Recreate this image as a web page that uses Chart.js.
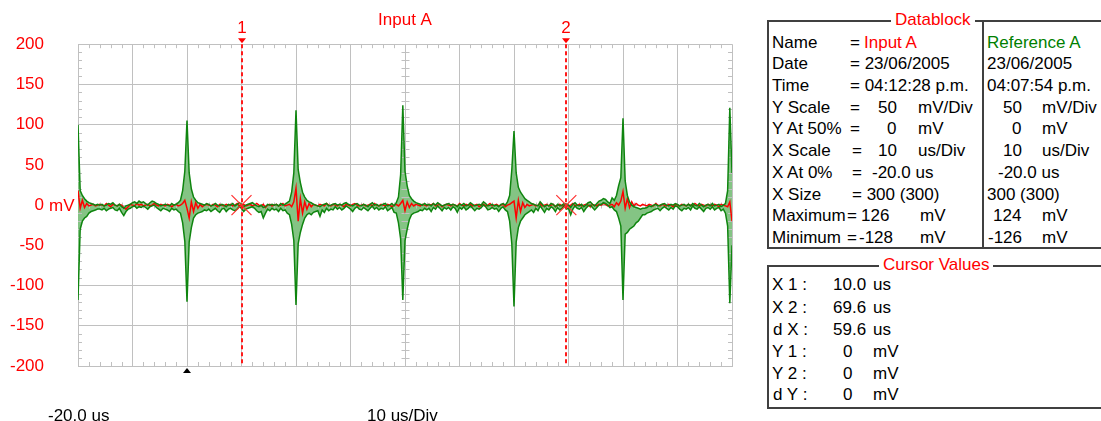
<!DOCTYPE html>
<html>
<head>
<meta charset="utf-8">
<script src="https://cdn.jsdelivr.net/npm/chart.js@4/dist/chart.umd.min.js"></script>
<style>
  html, body { margin: 0; padding: 0; background: #fff; width: 1101px; height: 421px; overflow: hidden; }
  body { position: relative; font-family: "Liberation Sans", Arial, sans-serif; font-size: 17px; color: #000; }
  #scope { position: absolute; left: 0; top: 0; }
  .t { position: absolute; white-space: pre; line-height: 20px; }
  .red { color: #ff0000; }
  .grn { color: #008000; }
  .box { position: absolute; border: 2px solid #404040; box-sizing: border-box; }
  .cap { position: absolute; background: #fff; color: #ff0000; padding: 0 4px; line-height: 20px; white-space: pre; }
  .div { position: absolute; background: #404040; }
</style>
</head>
<body>
<canvas id="scope" width="745" height="421"></canvas>

<!-- horizontal axis captions -->
<div class="t" style="left:48px; top:406px;">-20.0 us</div>
<div class="t" style="left:367px; top:406px;">10 us/Div</div>

<!-- Datablock -->
<div class="box" style="left:767px; top:20px; width:345px; height:229px;"></div>
<div class="div" style="left:982px; top:20px; width:2px; height:229px;"></div>
<div class="cap" style="left:891px; top:10px;">Datablock</div>

<div class="t" style="left:772px; top:33px;">Name</div>
<div class="t" style="left:850px; top:33px;">=</div>
<div class="t red" style="left:864px; top:33px;">Input A</div>
<div class="t grn" style="left:987px; top:33px;">Reference A</div>

<div class="t" style="left:772px; top:54px;">Date</div>
<div class="t" style="left:850px; top:54px;">= 23/06/2005</div>
<div class="t" style="left:987px; top:54px;">23/06/2005</div>

<div class="t" style="left:772px; top:76px;">Time</div>
<div class="t" style="left:850px; top:76px;">= 04:12:28 p.m.</div>
<div class="t" style="left:987px; top:76px;">04:07:54 p.m.</div>

<div class="t" style="left:772px; top:98px;">Y Scale</div>
<div class="t" style="left:850px; top:98px;">=</div>
<div class="t" style="left:878px; top:98px;">50</div>
<div class="t" style="left:918px; top:98px;">mV/Div</div>
<div class="t" style="left:1003px; top:98px;">50</div>
<div class="t" style="left:1042px; top:98px;">mV/Div</div>

<div class="t" style="left:772px; top:119px;">Y At 50%</div>
<div class="t" style="left:850px; top:119px;">=</div>
<div class="t" style="left:887px; top:119px;">0</div>
<div class="t" style="left:918px; top:119px;">mV</div>
<div class="t" style="left:1012px; top:119px;">0</div>
<div class="t" style="left:1042px; top:119px;">mV</div>

<div class="t" style="left:772px; top:141px;">X Scale</div>
<div class="t" style="left:852px; top:141px;">=</div>
<div class="t" style="left:878px; top:141px;">10</div>
<div class="t" style="left:918px; top:141px;">us/Div</div>
<div class="t" style="left:1003px; top:141px;">10</div>
<div class="t" style="left:1042px; top:141px;">us/Div</div>

<div class="t" style="left:772px; top:163px;">X At 0%</div>
<div class="t" style="left:852px; top:163px;">=</div>
<div class="t" style="left:872px; top:163px;">-20.0 us</div>
<div class="t" style="left:998px; top:163px;">-20.0 us</div>

<div class="t" style="left:772px; top:185px;">X Size</div>
<div class="t" style="left:852px; top:185px;">= 300 (300)</div>
<div class="t" style="left:987px; top:185px;">300 (300)</div>

<div class="t" style="left:772px; top:206px;">Maximum</div>
<div class="t" style="left:847px; top:206px;">=</div>
<div class="t" style="left:861px; top:206px;">126</div>
<div class="t" style="left:920px; top:206px;">mV</div>
<div class="t" style="left:993px; top:206px;">124</div>
<div class="t" style="left:1042px; top:206px;">mV</div>

<div class="t" style="left:772px; top:228px;">Minimum</div>
<div class="t" style="left:847px; top:228px;">=</div>
<div class="t" style="left:859px; top:228px;">-128</div>
<div class="t" style="left:920px; top:228px;">mV</div>
<div class="t" style="left:988px; top:228px;">-126</div>
<div class="t" style="left:1042px; top:228px;">mV</div>

<!-- Cursor Values -->
<div class="box" style="left:767px; top:265px; width:345px; height:144px;"></div>
<div class="cap" style="left:879px; top:255px;">Cursor Values</div>

<div class="t" style="left:772px; top:275px;">X 1 :</div>
<div class="t" style="left:833px; top:275px;">10.0</div>
<div class="t" style="left:873px; top:275px;">us</div>

<div class="t" style="left:772px; top:298px;">X 2 :</div>
<div class="t" style="left:833px; top:298px;">69.6</div>
<div class="t" style="left:873px; top:298px;">us</div>

<div class="t" style="left:773px; top:320px;">d X :</div>
<div class="t" style="left:833px; top:320px;">59.6</div>
<div class="t" style="left:873px; top:320px;">us</div>

<div class="t" style="left:772px; top:342px;">Y 1 :</div>
<div class="t" style="left:843px; top:342px;">0</div>
<div class="t" style="left:873px; top:342px;">mV</div>

<div class="t" style="left:772px; top:364px;">Y 2 :</div>
<div class="t" style="left:843px; top:364px;">0</div>
<div class="t" style="left:873px; top:364px;">mV</div>

<div class="t" style="left:773px; top:385px;">d Y :</div>
<div class="t" style="left:843px; top:385px;">0</div>
<div class="t" style="left:873px; top:385px;">mV</div>

<script>
// Timebase: 10 us/Div, trace starts at -20.0 us, 300 sample intervals across 12 divisions
const timeStart = -20;
const timeEnd = 100;
const sampleStep = 0.4;
const sampleTimes = Array.from({ length: 301 }, (_, i) => +(timeStart + i * sampleStep).toFixed(1));

// Vertical scale: 50 mV/Div, 8 divisions
const voltTicks = [-200, -150, -100, -50, 0, 50, 100, 150, 200];

// Reference A, upper edge of each sample's min/max envelope (mV)
const referenceAMax = [
  100, 18, 12, 8, 5, 3, 2, 1, 0, 1,
  0, 1, -1, 0, 2, 1, 3, 0, -1, 1,
  -2, -4, -1, 0, 1, 3, 4, 2, 5, 3,
  4, 2, 0, 3, 5, 4, 2, 1, -1, 0,
  1, 0, -1, 2, 0, 1, 3, 6, 18, 42,
  105, 40, 20, 10, 6, 3, 2, 1, 0, 2,
  1, -1, 0, 2, 0, -1, 1, 0, -2, 1,
  0, 2, -1, 1, 3, 1, -2, 0, 1, 2,
  3, 1, -1, -2, 0, -3, -2, 1, 0, 1,
  0, 1, -1, 2, 0, 1, 3, 5, 16, 40,
  118, 44, 28, 16, 10, 6, 4, 3, 1, 0,
  -1, -2, 0, 1, 2, -1, 0, 1, 2, 0,
  1, 0, 2, 3, 1, 0, -1, 1, 2, 0,
  -1, 1, 0, -2, 1, 3, 0, 1, -1, 0,
  1, 2, -1, 0, 2, -1, 3, 10, 38, 124,
  42, 24, 12, 8, 5, 3, 2, 1, 0, 2,
  0, 1, -1, 2, 0, 3, 1, -1, 0, 1,
  2, 0, 1, 0, -2, 1, 0, 2, -1, 0,
  3, 1, -1, 0, 1, 0, 4, 2, -1, 0,
  1, -1, 0, -2, 1, 2, 0, 4, 12, 44,
  92, 40, 22, 16, 12, 8, 6, 4, 2, 1,
  0, -1, 4, 1, -2, 0, -1, 2, 1, -2,
  1, -1, 0, 2, 1, 0, -3, 1, 3, 0,
  -1, 1, -2, 0, 3, 4, 1, -1, 2, 5,
  6, 8, 7, 4, 2, 9, 6, 12, 24, 34,
  108, 30, 12, 4, 0, -2, -3, -4, -5, -4,
  -4, -3, -1, -2, 0, 1, -1, 0, 1, 2,
  0, -1, 1, 0, 2, 1, -1, 0, 1, -1,
  1, -1, 2, 0, -1, 2, 0, -2, 0, 1,
  -1, 2, -1, 0, 1, -2, 0, 2, 18, 121,
  40
];

// Reference A, lower edge of each sample's min/max envelope (mV)
const referenceAMin = [
  -118, -30, -20, -16, -14, -10, -8, -7, -6, -5,
  -5, -6, -4, -7, -5, -4, -3, -6, -7, -4,
  -9, -13, -8, -5, -4, -2, -1, -4, -2, -3,
  -1, -3, -5, -2, -1, 0, -3, -5, -7, -4,
  -5, -6, -8, -4, -6, -5, -8, -10, -22, -45,
  -120, -46, -28, -16, -12, -10, -9, -8, -6, -7,
  -5, -8, -6, -4, -7, -9, -5, -4, -8, -5,
  -4, -6, -7, -5, -2, -4, -8, -5, -4, -3,
  -2, -4, -7, -9, -8, -16, -10, -5, -7, -4,
  -6, -5, -8, -4, -7, -6, -10, -12, -24, -44,
  -124, -48, -34, -24, -16, -12, -10, -12, -9, -8,
  -7, -14, -6, -9, -4, -7, -5, -6, -2, -5,
  -3, -6, -4, -1, -3, -5, -8, -4, -2, -5,
  -6, -3, -5, -7, -4, -1, -5, -3, -6, -4,
  -5, -2, -7, -5, -3, -9, -10, -22, -42, -118,
  -44, -30, -18, -12, -10, -9, -8, -6, -7, -4,
  -6, -4, -8, -3, -5, -1, -4, -7, -3, -5,
  -3, -6, -2, -4, -9, -3, -5, -2, -6, -4,
  -1, -4, -7, -4, -5, -3, 0, -2, -6, -5,
  -3, -5, -4, -8, -4, -2, -6, -8, -20, -48,
  -126, -46, -28, -20, -16, -12, -10, -8, -6, -9,
  -4, -7, -1, -5, -9, -4, -6, -2, -4, -8,
  -3, -6, -4, -1, -5, -4, -12, -5, -1, -4,
  -5, -3, -8, -4, -1, 0, -3, -6, -3, 0,
  1, 3, 2, 0, -3, -2, -6, -8, -16, -26,
  -118, -36, -34, -30, -28, -26, -22, -20, -16, -12,
  -12, -10, -9, -8, -6, -5, -4, -7, -4, -2,
  -4, -6, -3, -5, -1, -2, -5, -7, -4, -5,
  -3, -6, -1, -4, -5, -2, -5, -8, -4, -3,
  -5, -2, -6, -4, -3, -7, -5, -10, -26, -122,
  -50
];

// Input A trace (mV)
const inputA = [
  18, -4, 6, -3, 2, -1, 0, 1, -1, 0,
  1, 0, -1, 2, 0, -2, 1, 0, -1, 1,
  0, -3, -5, -2, 1, 0, -1, 2, 0, 1,
  -1, 0, 1, -1, 0, 2, 0, -1, 1, 0,
  -1, 1, 0, -2, 0, 1, -1, 0, 2, 6,
  -4, -16, 4, -8, 3, -4, 1, -2, 0, 1,
  0, -1, 1, 0, -2, 1, 0, -1, 1, 0,
  1, -1, 0, 2, -1, 0, 1, -1, 0, 1,
  -1, 0, 2, 0, -1, 1, -3, 0, 1, -1,
  0, 1, -1, 0, 2, -1, 0, 1, -2, 4,
  21, -20, 8, -10, 4, -5, 2, -2, 1, 0,
  -1, 1, 0, -1, 2, 0, -1, 1, 0, -1,
  1, 0, -2, 1, 0, -1, 1, 2, 0, -1,
  0, 1, -1, 0, 1, -1, 2, 0, -1, 1,
  0, -1, 1, 0, -2, 0, 1, -1, 2, 6,
  -7, 4, -3, 2, -1, 1, 0, -1, 1, 0,
  -1, 1, 0, 2, -1, 0, 1, -2, 0, 1,
  0, -1, 1, 0, -1, 2, 0, -1, 1, 0,
  1, -1, 0, 1, -2, 0, 1, -1, 0, 2,
  -1, 0, 1, -1, 0, 1, -2, 0, 1, 3,
  5, -16, 6, -8, 3, -3, 1, -1, 0, 1,
  -1, 0, 2, -1, 0, 1, -1, 0, 1, -2,
  0, 1, -1, 0, 1, -1, 0, 2, -1, 0,
  1, -1, 0, 1, 0, -2, 1, 0, -1, 1,
  0, 2, 1, -1, 0, 1, -2, 3, 0, 5,
  17, -4, 8, -3, 4, -1, 2, 0, -1, 1,
  0, -1, 1, 0, -1, 2, 0, -1, 1, 0,
  -1, 1, 0, -2, 1, 0, -1, 1, 0, -1,
  1, 0, -1, 2, 0, -1, 1, 0, -1, 1,
  0, -1, 1, 0, -2, 1, 0, -1, -2, 4,
  -20
];

// Cursor positions (us / mV) and trigger point
const cursorX = [10.0, 69.6];
const cursorY = [0, 0];
const cursorNames = ['1', '2'];
const triggerTime = 0;

const FONT = '"Liberation Sans", Arial, sans-serif';
const GRID = '#c0c0c0';

const scopeOverlay = {
  id: 'scopeOverlay',
  beforeDatasetsDraw(chart) {
    const { ctx, chartArea: a, scales: { x, y } } = chart;
    const xc = Math.round(x.getPixelForValue((timeStart + timeEnd) / 2)) + 0.5;
    const y0 = Math.round(y.getPixelForValue(0)) + 0.5;
    ctx.save();
    ctx.strokeStyle = GRID;
    ctx.lineWidth = 1;
    ctx.beginPath();
    // minor divisions: 5 per major division
    for (let k = 0; k <= 60; k++) {
      if (k % 5 === 0) continue;
      const px = Math.round(x.getPixelForValue(timeStart + k * 2)) + 0.5;
      ctx.moveTo(px, a.top); ctx.lineTo(px, a.top + 4);
      ctx.moveTo(px, a.bottom); ctx.lineTo(px, a.bottom - 4);
      ctx.moveTo(px, y0 - 3); ctx.lineTo(px, y0 + 3);
    }
    for (let k = 0; k <= 40; k++) {
      if (k % 5 === 0) continue;
      const py = Math.round(y.getPixelForValue(-200 + k * 10)) + 0.5;
      ctx.moveTo(a.left, py); ctx.lineTo(a.left + 4, py);
      ctx.moveTo(a.right, py); ctx.lineTo(a.right - 4, py);
      ctx.moveTo(xc - 4, py); ctx.lineTo(xc + 4, py);
    }
    ctx.stroke();
    ctx.restore();
  },
  afterDatasetsDraw(chart) {
    const { ctx, chartArea: a, scales: { x, y } } = chart;
    ctx.save();
    // cursor lines
    ctx.strokeStyle = '#ff1a1a';
    ctx.lineWidth = 2;
    ctx.setLineDash([4, 3]);
    cursorX.forEach((cx) => {
      const px = Math.round(x.getPixelForValue(cx));
      ctx.beginPath();
      ctx.moveTo(px, a.top);
      ctx.lineTo(px, a.bottom);
      ctx.stroke();
    });
    ctx.setLineDash([]);
    // cursor crosses at the measured level
    ctx.lineWidth = 1.2;
    ctx.strokeStyle = '#ff3030';
    cursorX.forEach((cx, i) => {
      const px = x.getPixelForValue(cx);
      const py = y.getPixelForValue(cursorY[i]);
      ctx.beginPath();
      ctx.moveTo(px - 10, py - 10); ctx.lineTo(px + 10, py + 10);
      ctx.moveTo(px + 10, py - 10); ctx.lineTo(px - 10, py + 10);
      ctx.stroke();
    });
    // cursor flags above the grid
    ctx.fillStyle = '#ff0000';
    ctx.font = '17px ' + FONT;
    ctx.textAlign = 'center';
    ctx.textBaseline = 'middle';
    cursorX.forEach((cx, i) => {
      const px = Math.round(x.getPixelForValue(cx));
      ctx.fillText(cursorNames[i], px, 28);
      ctx.beginPath();
      ctx.moveTo(px - 4, a.top - 6);
      ctx.lineTo(px + 4, a.top - 6);
      ctx.lineTo(px, a.top - 1);
      ctx.closePath();
      ctx.fill();
    });
    // trace title
    ctx.fillText('Input A', (a.left + a.right) / 2, 20);
    // unit next to the zero label
    ctx.textAlign = 'left';
    ctx.fillText('mV', 49, y.getPixelForValue(0) + 1);
    // trigger marker
    const tx = Math.round(x.getPixelForValue(triggerTime));
    ctx.fillStyle = '#000';
    ctx.beginPath();
    ctx.moveTo(tx - 4, a.bottom + 7);
    ctx.lineTo(tx + 4, a.bottom + 7);
    ctx.lineTo(tx, a.bottom + 2);
    ctx.closePath();
    ctx.fill();
    ctx.restore();
  }
};

const toPoints = (vals) => vals.map((v, i) => ({ x: sampleTimes[i], y: v }));

new Chart(document.getElementById('scope'), {
  type: 'line',
  data: {
    datasets: [
      {
        label: 'Input A',
        data: toPoints(inputA),
        borderColor: '#ff0000',
        borderWidth: 1.5,
        pointRadius: 0,
        fill: false,
        order: 2
      },
      {
        label: 'Reference A',
        data: toPoints(referenceAMax),
        borderColor: '#0f850f',
        backgroundColor: '#84c484',
        borderWidth: 1.5,
        pointRadius: 0,
        fill: '+1',
        order: 1
      },
      {
        label: 'Reference A (min)',
        data: toPoints(referenceAMin),
        borderColor: '#0f850f',
        borderWidth: 1.5,
        pointRadius: 0,
        fill: false,
        order: 0
      }
    ]
  },
  options: {
    responsive: false,
    animation: false,
    devicePixelRatio: 1,
    layout: { padding: { left: 0, right: 13, top: 41, bottom: 55 } },
    plugins: {
      legend: { display: false },
      tooltip: { enabled: false },
      title: { display: false },
      filler: { drawTime: 'beforeDatasetsDraw' }
    },
    elements: { line: { tension: 0 } },
    scales: {
      x: {
        type: 'linear',
        min: timeStart,
        max: timeEnd,
        ticks: { display: false, stepSize: 10 },
        grid: { color: GRID, lineWidth: 1, drawTicks: false },
        border: { color: GRID },
        afterFit: (s) => { s.height = 0; }
      },
      y: {
        min: voltTicks[0],
        max: voltTicks[voltTicks.length - 1],
        afterBuildTicks: (s) => { s.ticks = voltTicks.map((v) => ({ value: v })); },
        ticks: {
          color: '#ff0000',
          font: { family: FONT, size: 17 },
          padding: 34,
          autoSkip: false,
          callback: (v) => String(v)
        },
        grid: { color: GRID, lineWidth: 1, drawTicks: false },
        border: { color: GRID },
        afterFit: (s) => { s.width = 78; }
      }
    }
  },
  plugins: [scopeOverlay]
});
</script>
</body>
</html>
